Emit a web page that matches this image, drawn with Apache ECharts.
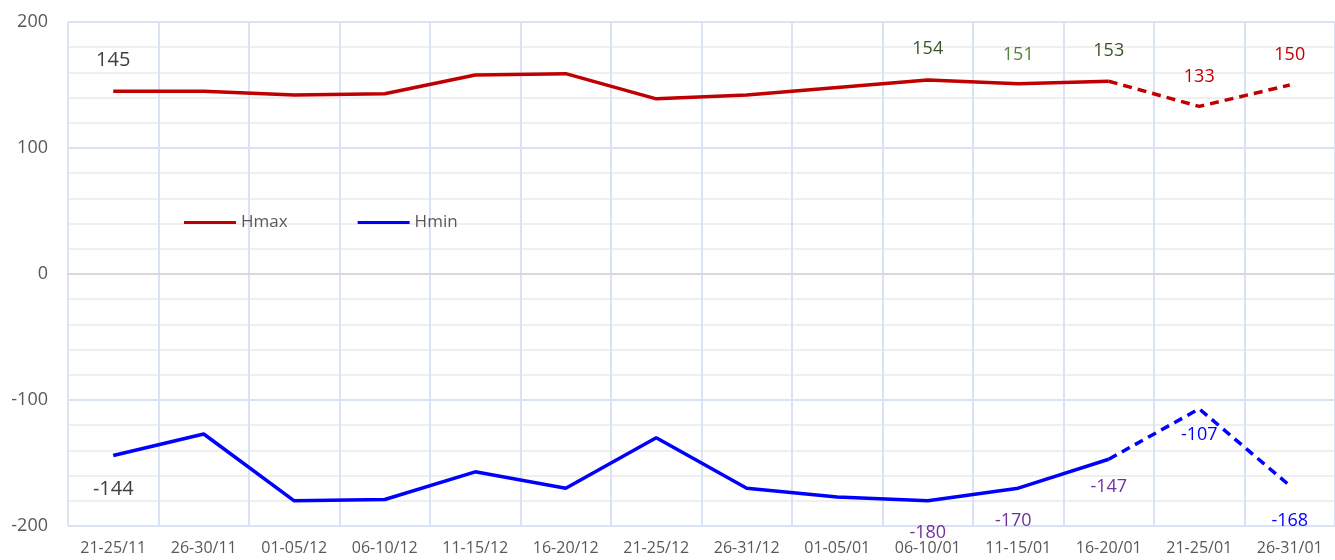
<!DOCTYPE html>
<html>
<head>
<meta charset="utf-8">
<script src="https://cdn.jsdelivr.net/npm/echarts@6/dist/echarts.min.js"></script>
<style>
  html, body { margin: 0; padding: 0; background: #fff; }
  #chart { width: 1335px; height: 560px; }
</style>
</head>
<body>
<div id="chart"></div>
<script>
var categories = ['21-25/11', '26-30/11', '01-05/12', '06-10/12', '11-15/12', '16-20/12', '21-25/12',
  '26-31/12', '01-05/01', '06-10/01', '11-15/01', '16-20/01', '21-25/01', '26-31/01'];
var hmax = [145, 145, 142, 143, 158, 159, 139, 142, 148, 154, 151, 153, 133, 150];
var hmin = [-144, -127, -180, -179, -157, -170, -130, -170, -177, -180, -170, -147, -107, -168];
var yTicks = [-200, -100, 0, 100, 200];
// the last points are forecasts, drawn dashed from this index on
var forecastFrom = 11;

// label colour and gap for the points that carry a value label
var maxLabelColor = { 0: '#404040', 9: '#375623', 10: '#548235', 11: '#375623', 12: '#c00000', 13: '#c00000' };
var minLabelColor = { 0: '#404040', 9: '#7030a0', 10: '#7030a0', 11: '#7030a0', 12: '#0000ff', 13: '#0000ff' };
var maxLabelGap = { 0: 21, 9: 22, 10: 20, 11: 21, 12: 21, 13: 21 };
var minLabelGap = { 0: 24, 9: 23, 10: 24, 11: 19, 12: 17, 13: 26 };

function pointsWithLabels(values, colors, gaps, pos, part) {
  return values.map(function (v, i) {
    var inPart = part === 'solid' ? i <= forecastFrom : i >= forecastFrom;
    if (!inPart) return null;
    var c = colors[i];
    var showHere = c && (part === 'solid' ? i <= forecastFrom : i > forecastFrom);
    return {
      value: v,
      label: {
        show: !!showHere,
        position: pos,
        distance: gaps[i] || 20,
        offset: i === 10 && pos === 'bottom' ? [-5, 0] : [0, 0],
        color: c || '#404040',
        fontSize: i === 0 ? 20 : 18
      }
    };
  });
}

var font = 'Open Sans';
var chart = echarts.init(document.getElementById('chart'));
var option = {
  animation: false,
  textStyle: { fontFamily: font },
  grid: { left: 68, right: -8, top: 22, bottom: 34 },
  legend: {
    data: [{ name: 'Hmax', icon: 'rect' }, { name: 'Hmin', icon: 'rect' }],
    left: 184,
    top: 214,
    padding: 0,
    itemWidth: 52,
    itemHeight: 3,
    itemGap: 70,
    textStyle: { color: '#595959', fontSize: 17, fontFamily: font }
  },
  xAxis: {
    type: 'category',
    data: categories,
    boundaryGap: true,
    axisLine: { lineStyle: { color: '#d9d9d9', width: 2 } },
    axisTick: { show: false },
    axisLabel: { color: '#595959', fontSize: 16, margin: 14, interval: 0 },
    splitLine: { show: true, lineStyle: { color: '#dae3f3', width: 2 } }
  },
  yAxis: {
    type: 'value',
    min: yTicks[0],
    max: yTicks[yTicks.length - 1],
    interval: 100,
    axisLine: { show: false },
    axisTick: { show: false },
    axisLabel: { color: '#595959', fontSize: 18, margin: 20 },
    splitLine: { lineStyle: { color: '#dae3f3', width: 2 } },
    minorTick: { show: false, splitNumber: 5 },
    minorSplitLine: { show: true, lineStyle: { color: '#efefef', width: 2 } }
  },
  series: [
    {
      name: 'Hmax', type: 'line', symbol: 'circle', symbolSize: 0, z: 3,
      lineStyle: { color: '#c00000', width: 3.5 }, itemStyle: { color: '#c00000' },
      data: pointsWithLabels(hmax, maxLabelColor, maxLabelGap, 'top', 'solid')
    },
    {
      name: 'Hmax', type: 'line', symbol: 'circle', symbolSize: 0, z: 3,
      lineStyle: { color: '#c00000', width: 3.5, type: [9, 6] }, itemStyle: { color: '#c00000' },
      data: pointsWithLabels(hmax, maxLabelColor, maxLabelGap, 'top', 'dash')
    },
    {
      name: 'Hmin', type: 'line', symbol: 'circle', symbolSize: 0, z: 3,
      lineStyle: { color: '#0000ff', width: 3.5 }, itemStyle: { color: '#0000ff' },
      data: pointsWithLabels(hmin, minLabelColor, minLabelGap, 'bottom', 'solid')
    },
    {
      name: 'Hmin', type: 'line', symbol: 'circle', symbolSize: 0, z: 3,
      lineStyle: { color: '#0000ff', width: 3.5, type: [9, 6] }, itemStyle: { color: '#0000ff' },
      data: pointsWithLabels(hmin, minLabelColor, minLabelGap, 'bottom', 'dash')
    }
  ]
};
chart.setOption(option);
</script>
</body>
</html>
